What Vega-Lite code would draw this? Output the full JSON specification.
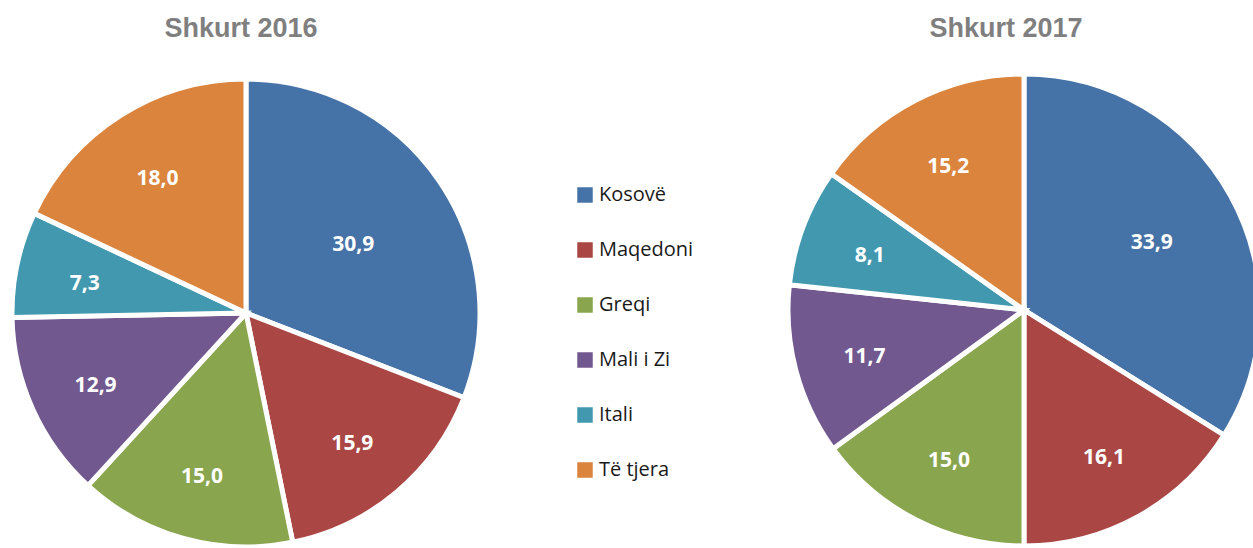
{
  "$schema": "https://vega.github.io/schema/vega-lite/v6.json",
  "background": "white",
  "padding": {"left": 0, "top": 15, "right": 0, "bottom": 0},
  "config": {
    "view": {"stroke": null},
    "locale": {"number": {"decimal": ",", "thousands": ".", "grouping": [3], "currency": ["", "€"]}},
    "title": {"font": "Liberation Sans", "fontSize": 27, "fontWeight": "bold", "color": "#7f7f7f", "offset": 10},
    "legend": {
      "orient": "none", "legendX": 575, "legendY": 132,
      "title": null,
      "symbolType": "square", "symbolSize": 240, "symbolStrokeWidth": 0,
      "labelFont": "Open Sans", "labelFontSize": 20, "labelColor": "#1a1a1a",
      "labelOffset": 4, "rowPadding": 35
    }
  },
  "data": {"values": [
    {"viti": "Shkurt 2016", "vendi": "Kosovë", "vlera": 30.9},
    {"viti": "Shkurt 2016", "vendi": "Maqedoni", "vlera": 15.9},
    {"viti": "Shkurt 2016", "vendi": "Greqi", "vlera": 15.0},
    {"viti": "Shkurt 2016", "vendi": "Mali i Zi", "vlera": 12.9},
    {"viti": "Shkurt 2016", "vendi": "Itali", "vlera": 7.3},
    {"viti": "Shkurt 2016", "vendi": "Të tjera", "vlera": 18.0},
    {"viti": "Shkurt 2017", "vendi": "Kosovë", "vlera": 33.9},
    {"viti": "Shkurt 2017", "vendi": "Maqedoni", "vlera": 16.1},
    {"viti": "Shkurt 2017", "vendi": "Greqi", "vlera": 15.0},
    {"viti": "Shkurt 2017", "vendi": "Mali i Zi", "vlera": 11.7},
    {"viti": "Shkurt 2017", "vendi": "Itali", "vlera": 8.1},
    {"viti": "Shkurt 2017", "vendi": "Të tjera", "vlera": 15.2}
  ]},
  "spacing": 286,
  "hconcat": [
    {
      "title": {"text": "Shkurt 2016", "dx": -5},
      "width": 492, "height": 520,
      "transform": [
        {"filter": "datum.viti === 'Shkurt 2016'"},
        {"window": [{"op": "row_number", "as": "rend"}]}
      ],
      "encoding": {
        "theta": {"field": "vlera", "type": "quantitative", "stack": true, "scale": {"domain": [0, 100]}},
        "order": {"field": "rend", "type": "quantitative"}
      },
      "layer": [
        {
          "mark": {"type": "arc", "radius": 234, "stroke": "white", "strokeWidth": 5},
          "encoding": {
            "color": {"field": "vendi", "type": "nominal",
              "scale": {"domain": ["Kosovë", "Maqedoni", "Greqi", "Mali i Zi", "Itali", "Të tjera"],
                        "range": ["#4572A7", "#AA4643", "#89A54E", "#71588F", "#4198AF", "#DB843D"]}}
          }
        },
        {
          "mark": {"type": "text", "radius": 165, "dy": 5, "font": "Open Sans", "fontWeight": "bold", "fontSize": 21},
          "encoding": {
            "text": {"field": "vlera", "type": "quantitative", "format": ".1f"},
            "color": {"value": "white"},
            "opacity": {"condition": {"test": "datum.vendi === 'Kosovë'", "value": 0}, "value": 1}
          }
        },
        {
          "transform": [{"filter": "datum.vendi === 'Kosovë'"}],
          "mark": {"type": "text", "radius": 130, "dy": 5, "font": "Open Sans", "fontWeight": "bold", "fontSize": 21},
          "encoding": {
            "text": {"field": "vlera", "type": "quantitative", "format": ".1f"},
            "color": {"value": "white"}
          }
        }
      ]
    },
    {
      "title": {"text": "Shkurt 2017", "dx": -18},
      "width": 464, "height": 514,
      "transform": [
        {"filter": "datum.viti === 'Shkurt 2017'"},
        {"window": [{"op": "row_number", "as": "rend"}]}
      ],
      "encoding": {
        "theta": {"field": "vlera", "type": "quantitative", "stack": true, "scale": {"domain": [0, 100]}},
        "order": {"field": "rend", "type": "quantitative"}
      },
      "layer": [
        {
          "mark": {"type": "arc", "radius": 236, "stroke": "white", "strokeWidth": 5},
          "encoding": {
            "color": {"field": "vendi", "type": "nominal",
              "scale": {"domain": ["Kosovë", "Maqedoni", "Greqi", "Mali i Zi", "Itali", "Të tjera"],
                        "range": ["#4572A7", "#AA4643", "#89A54E", "#71588F", "#4198AF", "#DB843D"]}}
          }
        },
        {
          "mark": {"type": "text", "radius": 165, "dy": 4, "font": "Open Sans", "fontWeight": "bold", "fontSize": 21},
          "encoding": {
            "text": {"field": "vlera", "type": "quantitative", "format": ".1f"},
            "color": {"value": "white"},
            "opacity": {"condition": {"test": "datum.vendi === 'Kosovë'", "value": 0}, "value": 1}
          }
        },
        {
          "transform": [{"filter": "datum.vendi === 'Kosovë'"}],
          "mark": {"type": "text", "radius": 146, "dy": 4, "font": "Open Sans", "fontWeight": "bold", "fontSize": 21},
          "encoding": {
            "text": {"field": "vlera", "type": "quantitative", "format": ".1f"},
            "color": {"value": "white"}
          }
        }
      ]
    }
  ]
}
